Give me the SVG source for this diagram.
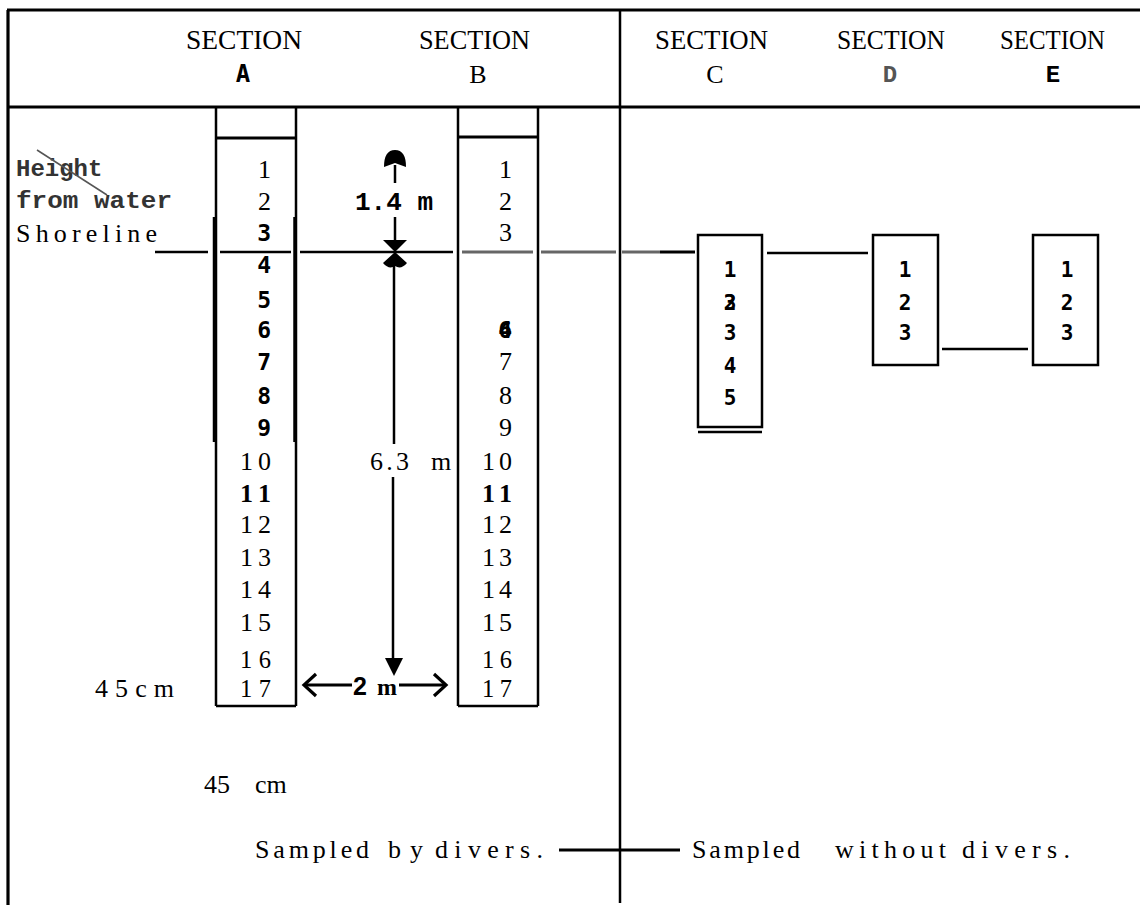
<svg xmlns="http://www.w3.org/2000/svg" width="1140" height="910" viewBox="0 0 1140 910">
<style>
.ln{stroke:#000;stroke-width:2.5;fill:none}
.th{stroke:#000;stroke-width:3.2;fill:none}
.gl{stroke:#666;stroke-width:3;fill:none}
.tm{font-family:"Liberation Serif",serif;font-size:26px;fill:#000}
.sm{font-size:24.5px}
.hd{font-family:"Liberation Serif",serif;font-size:27px;fill:#000}
.mb{font-family:"DejaVu Sans Mono",monospace;font-weight:bold;fill:#000}
.cr{font-family:"Liberation Mono",monospace;font-weight:bold;fill:#000}
.ah{fill:#000;stroke:none}
</style>
<rect width="1140" height="910" fill="#fff"/>

<g id="frame">
<line class="th" x1="7" y1="10" x2="1140" y2="10"/>
<line class="th" x1="8" y1="10" x2="8" y2="905"/>
<line class="th" x1="8" y1="107" x2="1140" y2="107"/>
<line class="ln" x1="620" y1="10" x2="620" y2="903"/>
</g>

<g id="header">
<text class="hd" x="186" y="49" textLength="116" lengthAdjust="spacingAndGlyphs">SECTION</text>
<text class="mb" x="243" y="82" font-size="24" text-anchor="middle">A</text>
<text class="hd" x="419" y="49" textLength="111" lengthAdjust="spacingAndGlyphs">SECTION</text>
<text class="tm" x="478" y="83" font-size="27" text-anchor="middle">B</text>
<text class="hd" x="655" y="49" textLength="113" lengthAdjust="spacingAndGlyphs">SECTION</text>
<text class="tm" x="715" y="83" font-size="27" text-anchor="middle">C</text>
<text class="hd" x="837" y="49" textLength="108" lengthAdjust="spacingAndGlyphs">SECTION</text>
<text class="cr" x="890" y="82" font-size="24" text-anchor="middle" style="fill:#555">D</text>
<text class="hd" x="1000" y="49" textLength="105" lengthAdjust="spacingAndGlyphs">SECTION</text>
<text class="cr" x="1053" y="82" font-size="24" text-anchor="middle">E</text>
</g>

<g id="labels">
<text class="cr" x="16" y="176" font-size="24" style="fill:#333">Height</text>
<line x1="37" y1="150" x2="107" y2="195" stroke="#555" stroke-width="1.5"/>
<text class="cr" x="16" y="208" font-size="24" textLength="156" lengthAdjust="spacingAndGlyphs" style="fill:#333">from water</text>
<text class="tm" x="16" y="242" font-size="23" textLength="141" lengthAdjust="spacing">Shoreline</text>
<text class="tm" x="95" y="697" textLength="79" lengthAdjust="spacing">45cm</text>
<text class="tm" x="204" y="793">45</text>
<text class="tm" x="255" y="793">cm</text>
</g>

<g id="section-a">
<line class="ln" x1="216" y1="107" x2="216" y2="706"/>
<line class="ln" x1="296" y1="107" x2="296" y2="706"/>
<line class="ln" x1="214" y1="217" x2="214" y2="442"/>
<line class="ln" x1="294.5" y1="217" x2="294.5" y2="442"/>
<line class="th" x1="216" y1="138" x2="296" y2="138"/>
<line class="ln" x1="216" y1="706" x2="296" y2="706"/>
<g text-anchor="end">
<text class="tm" x="271" y="178">1</text>
<text class="tm" x="271" y="210">2</text>
<text class="mb" x="271" y="241" font-size="23">3</text>
<text class="mb" x="271" y="273" font-size="23">4</text>
<text class="mb" x="271" y="308" font-size="23">5</text>
<text class="mb" x="271" y="338" font-size="23">6</text>
<text class="mb" x="271" y="370" font-size="23">7</text>
<text class="mb" x="271" y="404" font-size="23">8</text>
<text class="mb" x="271" y="436" font-size="23">9</text>
</g>
<text class="tm" x="240" y="470" textLength="31">10</text>
<text class="tm" x="240" y="502" textLength="31" font-weight="bold">11</text>
<text class="tm" x="240" y="533" textLength="31">12</text>
<text class="tm" x="240" y="566" textLength="31">13</text>
<text class="tm" x="240" y="598" textLength="31">14</text>
<text class="tm" x="240" y="631" textLength="31">15</text>
<text class="tm sm" x="240" y="668" textLength="31">16</text>
<text class="tm sm" x="240" y="697" textLength="31">17</text>
</g>

<g id="section-b">
<line class="ln" x1="458" y1="107" x2="458" y2="706"/>
<line class="ln" x1="538" y1="107" x2="538" y2="706"/>
<line class="th" x1="458" y1="137" x2="538" y2="137"/>
<line class="ln" x1="458" y1="706" x2="538" y2="706"/>
<g text-anchor="end">
<text class="tm" x="512" y="178">1</text>
<text class="tm" x="512" y="210">2</text>
<text class="tm" x="512" y="241">3</text>
<text class="mb" x="512" y="338" font-size="23">4</text>
<text class="mb" x="512" y="338" font-size="23">6</text>
<text class="tm" x="512" y="370">7</text>
<text class="tm" x="512" y="404">8</text>
<text class="tm" x="512" y="436">9</text>
</g>
<text class="tm" x="482" y="470" textLength="30">10</text>
<text class="tm" x="482" y="502" textLength="30" font-weight="bold">11</text>
<text class="tm" x="482" y="533" textLength="30">12</text>
<text class="tm" x="482" y="566" textLength="30">13</text>
<text class="tm" x="482" y="598" textLength="30">14</text>
<text class="tm" x="482" y="631" textLength="30">15</text>
<text class="tm sm" x="482" y="668" textLength="30">16</text>
<text class="tm sm" x="482" y="697" textLength="30">17</text>
</g>

<g id="section-c">
<rect class="ln" x="698" y="235" width="64" height="192"/>
<line class="ln" x1="698" y1="432" x2="762" y2="432"/>
<g text-anchor="middle">
<text class="mb" x="730" y="277" font-size="21">1</text>
<text class="mb" x="730" y="310" font-size="21">2</text>
<text class="mb" x="730" y="310" font-size="21">3</text>
<text class="mb" x="730" y="340" font-size="21">3</text>
<text class="mb" x="730" y="373" font-size="21">4</text>
<text class="mb" x="730" y="405" font-size="21">5</text>
</g>
</g>

<g id="section-d">
<rect class="ln" x="873" y="235" width="65" height="130"/>
<g text-anchor="middle">
<text class="mb" x="905" y="277" font-size="21">1</text>
<text class="mb" x="905" y="310" font-size="21">2</text>
<text class="mb" x="905" y="340" font-size="21">3</text>
</g>
</g>

<g id="section-e">
<rect class="ln" x="1033" y="235" width="65" height="130"/>
<g text-anchor="middle">
<text class="mb" x="1067" y="277" font-size="21">1</text>
<text class="mb" x="1067" y="310" font-size="21">2</text>
<text class="mb" x="1067" y="340" font-size="21">3</text>
</g>
</g>

<g id="connectors">
<line class="ln" x1="155" y1="252" x2="208" y2="252"/>
<line class="ln" x1="220" y1="252" x2="291" y2="252"/>
<line class="ln" x1="300" y1="252" x2="453" y2="252"/>
<line class="gl" x1="462" y1="252" x2="533" y2="252"/>
<line class="gl" x1="541" y1="252" x2="616" y2="252"/>
<line class="gl" x1="622" y1="252" x2="660" y2="252"/>
<line class="th" x1="660" y1="252" x2="695" y2="252"/>
<line class="ln" x1="767" y1="253" x2="868" y2="253"/>
<line class="ln" x1="942" y1="349" x2="1028" y2="349"/>
<line class="th" x1="559" y1="850" x2="680" y2="850"/>

<line class="ln" x1="395" y1="165" x2="395" y2="183"/>
<path class="ah" d="M384,167 Q384,150 395,150 Q406,150 406,167 L395,163 Z"/>
<text class="cr" x="355" y="210" font-size="26">1.4 m</text>
<line class="ln" x1="395" y1="217" x2="395" y2="242"/>
<path class="ah" d="M383,240 L407,240 L395,252 Z"/>
<path class="ah" d="M395,252 L407,263 Q401,270 395,266 Q389,270 383,263 Z"/>
<line class="ln" x1="394" y1="264" x2="394" y2="444"/>
<text class="tm" x="370" y="470" textLength="39">6.3</text>
<text class="tm" x="431" y="470">m</text>
<line class="ln" x1="393" y1="477" x2="393" y2="660"/>
<path class="ah" d="M385,658 L403,658 L394,676 Z"/>

<polyline class="th" points="316,674 304,685 316,696"/>
<line class="th" x1="306" y1="685" x2="352" y2="685"/>
<text x="353" y="695" font-family="Liberation Sans, sans-serif" font-weight="bold" font-size="25">2</text>
<text x="377" y="695" font-family="Liberation Serif, serif" font-weight="bold" font-size="24">m</text>
<line class="th" x1="399" y1="685" x2="444" y2="685"/>
<polyline class="th" points="434,674 446,685 434,696"/>
</g>

<g id="footer">
<text class="tm" x="255" y="858" font-size="27" textLength="114" lengthAdjust="spacing">Sampled</text>
<text class="tm" x="388" y="858" font-size="27" textLength="35" lengthAdjust="spacing">by</text>
<text class="tm" x="435" y="858" font-size="27" textLength="108" lengthAdjust="spacing">divers.</text>
<text class="tm" x="692" y="858" font-size="27" textLength="108" lengthAdjust="spacing">Sampled</text>
<text class="tm" x="835" y="858" font-size="27" textLength="111" lengthAdjust="spacing">without</text>
<text class="tm" x="962" y="858" font-size="27" textLength="108" lengthAdjust="spacing">divers.</text>
</g>
</svg>
